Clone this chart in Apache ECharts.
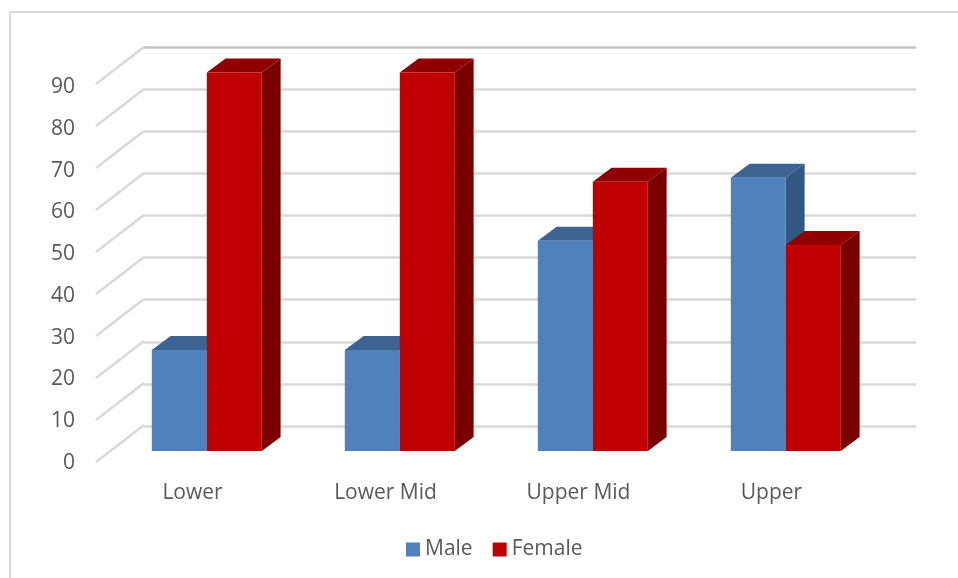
<!DOCTYPE html>
<html>
<head>
<meta charset="utf-8">
<style>html,body{margin:0;padding:0;background:#fff}#c{width:958px;height:578px}</style>
<script src="https://cdn.jsdelivr.net/npm/echarts@6/dist/echarts.min.js"></script>
</head>
<body>
<div id="c"></div>
<script>
const categories = ['Lower', 'Lower Mid', 'Upper Mid', 'Upper'];
const maleValues = [24, 24, 50, 65];
const femaleValues = [90, 90, 64, 49];
const tickValues = [0, 10, 20, 30, 40, 50, 60, 70, 80, 90];

const FONT = '"Open Sans", sans-serif';
const TEXT = '#595959';
const GRIDC = '#d9d9d9';
const DX = 18.8, DY = 14;
const BAR_RATIO = 55 / 193;

function barRenderer(slot, front, top, side) {
  return function (params, api) {
    const c = api.coord([api.value(0), api.value(1)]);
    const base = api.coord([api.value(0), 0]);
    const w = api.size([1, 0])[0] * BAR_RATIO;
    const x0 = c[0] + (slot === 0 ? -w : 0), x1 = x0 + w;
    const yT = c[1], yB = base[1];
    return {
      type: 'group',
      children: [
        { type: 'polygon', shape: { points: [[x1, yB], [x1 + DX, yB - DY], [x1 + DX, yT - DY], [x1, yT]] }, style: { fill: side } },
        { type: 'polygon', shape: { points: [[x0, yT], [x0 + DX, yT - DY], [x1 + DX, yT - DY], [x1, yT]] }, style: { fill: top } },
        { type: 'rect', shape: { x: x0, y: yT, width: w, height: yB - yT }, style: { fill: front } }
      ]
    };
  };
}

const valueAxisBase = { type: 'value', min: 0, max: 90, interval: 10 };
const hiddenCat = { type: 'category', data: categories, show: false };
const noAxisMarks = { axisLine: { show: false }, axisTick: { show: false }, splitLine: { show: false } };

const option = {
  animation: false,
  backgroundColor: '#fff',
  graphic: [{
    type: 'rect', silent: true, z: -1,
    shape: { x: 10, y: 12, width: 1000, height: 640 },
    style: { fill: 'none', stroke: GRIDC, lineWidth: 2 }
  }],
  legend: {
    left: 401, top: 534,
    data: ['Male', 'Female'],
    icon: 'rect', itemWidth: 14, itemHeight: 14, itemGap: 20,
    textStyle: { fontFamily: FONT, fontSize: 21, color: TEXT },
    selectedMode: false
  },
  grid: [
    { left: 96, top: 84, width: 772, height: 378 },
    { left: 144, top: 47, width: 772, height: 379 },
    { left: 110.3, top: 72.5, width: 772, height: 378.5 },
    { left: 96, top: 87, width: 772, height: 376 }
  ],
  xAxis: [
    { type: 'category', data: categories, gridIndex: 0,
      axisLine: { show: false }, axisTick: { show: false },
      axisLabel: { fontFamily: FONT, fontSize: 21, color: TEXT, margin: 21 } },
    Object.assign({ gridIndex: 1 }, hiddenCat),
    Object.assign({ gridIndex: 2 }, hiddenCat),
    Object.assign({ gridIndex: 3 }, hiddenCat)
  ],
  yAxis: [
    Object.assign({ gridIndex: 0, show: false, splitLine: { show: false } }, valueAxisBase),
    Object.assign({ gridIndex: 1, axisLabel: { show: false }, axisLine: { show: false }, axisTick: { show: false },
      splitLine: { show: true, lineStyle: { width: 2.5, color: ['#d9d9d9','#d9d9d9','#d9d9d9','#d9d9d9','#d9d9d9','#d9d9d9','#d9d9d9','#d9d9d9','#d9d9d9','#c4c4c4'] } } }, valueAxisBase),
    Object.assign({ gridIndex: 2, show: false, splitLine: { show: false } }, valueAxisBase),
    Object.assign({ gridIndex: 3, axisLabel: { fontFamily: FONT, fontSize: 21, color: TEXT, margin: 21 } }, noAxisMarks, valueAxisBase)
  ],
  series: [
    {
      name: 'Walls', type: 'custom', xAxisIndex: 0, yAxisIndex: 0, z: 1, silent: true,
      data: tickValues.map(v => [0, v]), encode: { x: 0, y: 1 },
      renderItem: function (params, api) {
        const y = api.coord([0, api.value(1)])[1];
        const x = params.coordSys.x;
        return { type: 'line', shape: { x1: x, y1: y, x2: x + 48, y2: y - 37 },
                 style: { stroke: GRIDC, lineWidth: 2.5, fill: 'none' } };
      }
    },
    {
      name: 'Male', type: 'custom', xAxisIndex: 2, yAxisIndex: 2, z: 3, clip: false,
      itemStyle: { color: '#4f81bd' },
      data: maleValues.map((v, i) => [i, v]), encode: { x: 0, y: 1 },
      renderItem: barRenderer(0, '#4f81bd', '#3d6390', '#335780')
    },
    {
      name: 'Female', type: 'custom', xAxisIndex: 2, yAxisIndex: 2, z: 4, clip: false,
      itemStyle: { color: '#c00000' },
      data: femaleValues.map((v, i) => [i, v]), encode: { x: 0, y: 1 },
      renderItem: barRenderer(1, '#c00000', '#900000', '#780000')
    }
  ]
};
echarts.init(document.getElementById('c'), null, { renderer: 'canvas' }).setOption(option);
</script>
</body>
</html>
